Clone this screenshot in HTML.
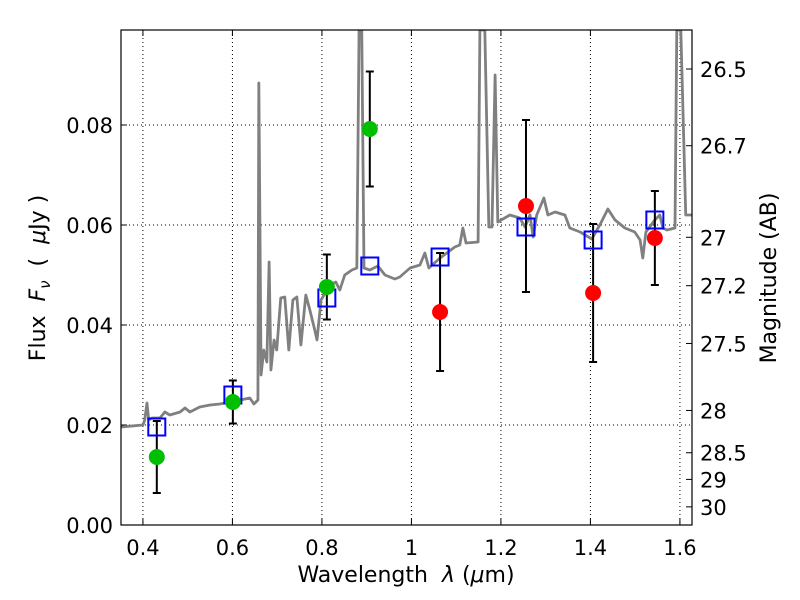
<!DOCTYPE html>
<html><head><meta charset="utf-8"><style>
body{margin:0;background:#fff}
svg{display:block;font-family:"DejaVu Sans","Liberation Sans",sans-serif}
</style></head><body>
<svg id="chart" width="800" height="600"></svg>
<script>
const specWave=[0.351,0.400,0.404,0.409,0.413,0.420,0.438,0.449,0.460,0.483,0.494,0.505,0.527,0.550,0.572,0.617,0.639,0.648,0.657,0.659,0.664,0.670,0.677,0.682,0.686,0.693,0.699,0.708,0.717,0.726,0.735,0.744,0.753,0.764,0.773,0.784,0.789,0.798,0.818,0.831,0.840,0.851,0.867,0.878,0.883,0.889,0.894,0.907,0.925,0.941,0.963,0.974,0.997,1.019,1.030,1.039,1.064,1.097,1.108,1.115,1.122,1.149,1.153,1.164,1.173,1.180,1.187,1.193,1.220,1.242,1.254,1.265,1.272,1.280,1.296,1.305,1.321,1.343,1.354,1.377,1.403,1.421,1.439,1.455,1.477,1.499,1.511,1.517,1.524,1.544,1.555,1.562,1.571,1.589,1.593,1.598,1.602,1.613,1.627];
const specFlux=[0.0196,0.020,0.021,0.0244,0.021,0.0214,0.0214,0.0226,0.022,0.0226,0.0234,0.0226,0.0236,0.024,0.0242,0.025,0.0254,0.0242,0.025,0.0884,0.030,0.035,0.0326,0.0526,0.031,0.037,0.035,0.0454,0.0456,0.035,0.045,0.0456,0.036,0.046,0.043,0.039,0.037,0.045,0.048,0.0486,0.047,0.050,0.051,0.0514,0.099,0.099,0.0514,0.051,0.0518,0.050,0.0492,0.0496,0.0514,0.052,0.0544,0.0514,0.0534,0.0556,0.056,0.0594,0.0564,0.0566,0.099,0.099,0.0596,0.0596,0.090,0.0606,0.062,0.0614,0.0596,0.062,0.0576,0.062,0.0654,0.062,0.0626,0.062,0.0594,0.0586,0.0572,0.060,0.0632,0.061,0.0594,0.0586,0.057,0.0534,0.0586,0.061,0.062,0.0594,0.059,0.0594,0.099,0.099,0.099,0.062,0.062];
const greenWave=[0.431,0.601,0.811,0.907];
const greenFlux=[0.0136,0.0246,0.0476,0.0792];
const greenErr=[0.0072,0.0043,0.0065,0.0115];
const redWave=[1.064,1.256,1.406,1.544];
const redFlux=[0.0426,0.0638,0.0464,0.0574];
const redErr=[0.0118,0.0172,0.0138,0.0094];
const modelWave=[0.431,0.601,0.811,0.907,1.064,1.256,1.406,1.544];
const modelFlux=[0.0196,0.026,0.0454,0.0518,0.0536,0.0596,0.057,0.061];
const xTicks=[0.4,0.6,0.8,1,1.2,1.4,1.6];
const xTickLabels=["0.4","0.6","0.8","1","1.2","1.4","1.6"];
const yTicks=[0,0.02,0.04,0.06,0.08];
const yTickLabels=["0.00","0.02","0.04","0.06","0.08"];
const magTicks=[26.5,26.7,27,27.2,27.5,28,28.5,29,30];
const magTickLabels=["26.5","26.7","27","27.2","27.5","28","28.5","29","30"];

const L=121,R=692,T=30,B=525,XMIN=0.351,XMAX=1.627,YMIN=0,YMAX=0.099;
const X=v=>L+(v-XMIN)/(XMAX-XMIN)*(R-L);
const Y=v=>B-(v-YMIN)/(YMAX-YMIN)*(B-T);
const NS="http://www.w3.org/2000/svg";
const svg=document.getElementById('chart');
function mk(tag,attrs,parent){const e=document.createElementNS(NS,tag);for(const k in attrs)e.setAttribute(k,attrs[k]);(parent||svg).appendChild(e);return e;}
const defs=mk('defs',{});const cp=mk('clipPath',{id:'clip'},defs);mk('rect',{x:L,y:T,width:R-L,height:B-T},cp);
const grid=mk('g',{});


xTicks.forEach((t,i)=>{const x=X(t);
 mk('line',{x1:x,x2:x,y1:T,y2:B,stroke:'#000','stroke-dasharray':'1,3','stroke-width':1},grid);
 mk('line',{x1:x,x2:x,y1:B,y2:B-6,stroke:'#000'});mk('line',{x1:x,x2:x,y1:T,y2:T+6,stroke:'#000'});
 const tx=mk('text',{x:x,y:B+30,'text-anchor':'middle','font-size':21});tx.textContent=xTickLabels[i];
 
 
});
yTicks.forEach((t,i)=>{const y=Y(t);
 mk('line',{x1:L,x2:R,y1:y,y2:y,stroke:'#000','stroke-dasharray':'1,3','stroke-width':1},grid);
 mk('line',{x1:L,x2:L+6,y1:y,y2:y,stroke:'#000'});
 const tx=mk('text',{x:L-8,y:y+8,'text-anchor':'end','font-size':21});tx.textContent=yTickLabels[i];
 
 
});
magTicks.forEach((m,i)=>{const y=Y(Math.pow(10,(23.9-m)/2.5));
 mk('line',{x1:R,x2:R-6,y1:y,y2:y,stroke:'#000'});
 const tx=mk('text',{x:R+8,y:y+8,'font-size':21});tx.textContent=magTickLabels[i];
 
 
});
const spec=mk('polyline',{points:specWave.map((w,i)=>X(w)+','+Y(specFlux[i])).join(' '),fill:'none',stroke:'#808080','stroke-width':2.8,'stroke-linejoin':'round','clip-path':'url(#clip)'});


function errbars(w,f,e,name){w.forEach((v,i)=>{const x=X(v),y1=Y(f[i]+e[i]),y2=Y(f[i]-e[i]);
 const g=mk('g',{stroke:'#000','stroke-width':2});
 
 
 mk('line',{x1:x,x2:x,y1:y1,y2:y2},g);mk('line',{x1:x-4,x2:x+4,y1:y1,y2:y1},g);mk('line',{x1:x-4,x2:x+4,y1:y2,y2:y2},g);});}
errbars(greenWave,greenFlux,greenErr,'green-error-bar');
errbars(redWave,redFlux,redErr,'red-error-bar');
modelWave.forEach((v,i)=>{const r=mk('rect',{x:X(v)-8.5,y:Y(modelFlux[i])-8.5,width:17,height:17,fill:'none',stroke:'#0000ff','stroke-width':2});
 
 });
greenWave.forEach((v,i)=>{const c=mk('circle',{cx:X(v),cy:Y(greenFlux[i]),r:8,fill:'#00bf00'});
 
 });
redWave.forEach((v,i)=>{const c=mk('circle',{cx:X(v),cy:Y(redFlux[i]),r:8,fill:'#ff0000'});
 
 });
const frame=mk('rect',{x:L,y:T,width:R-L,height:B-T,fill:'none',stroke:'#000','stroke-width':1.2});


</script>
<svg width="800" height="600" style="position:absolute;left:0;top:0" xml:space="preserve">
<text x="406" y="582" text-anchor="middle" font-size="22" font-family="DejaVu Sans,sans-serif" style="white-space:pre">Wavelength  <tspan font-style="italic">λ</tspan> (<tspan font-style="italic">μ</tspan>m)</text>
<text transform="translate(45,278) rotate(-90)" text-anchor="middle" font-size="22" font-family="DejaVu Sans,sans-serif" style="white-space:pre">Flux  <tspan font-style="italic">F</tspan><tspan font-style="italic" font-size="15" dy="5">ν</tspan><tspan dy="-5">  (  </tspan><tspan font-style="italic">μ</tspan>Jy )</text>
<text transform="translate(776,278) rotate(-90)" text-anchor="middle" font-size="22" font-family="DejaVu Sans,sans-serif">Magnitude (AB)</text>
</svg>
</body></html>
